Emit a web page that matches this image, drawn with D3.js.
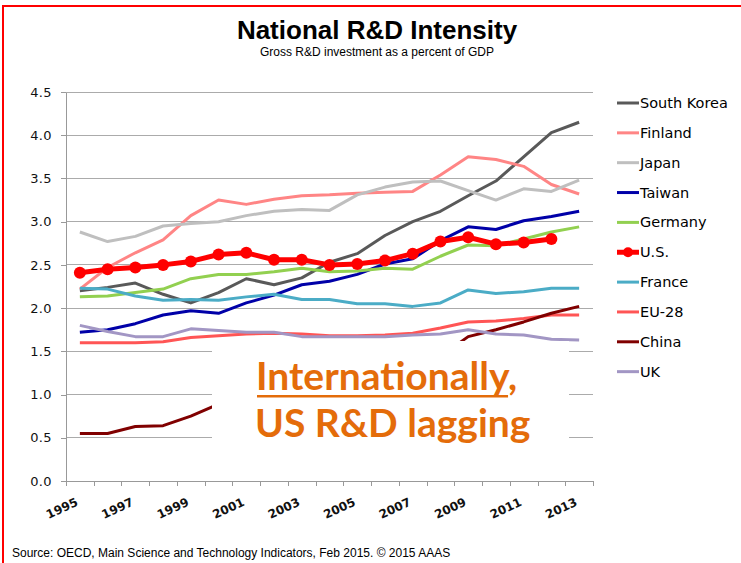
<!DOCTYPE html>
<html>
<head>
<meta charset="utf-8">
<script src="https://cdn.jsdelivr.net/npm/d3@7"></script>
<style>
html,body{margin:0;padding:0;background:#fff;}
svg{display:block;}
</style>
</head>
<body>
<svg id="chart" width="741" height="563"></svg>
<script>
// ---- data ----
const years = ["1995","1996","1997","1998","1999","2000","2001","2002","2003","2004","2005","2006","2007","2008","2009","2010","2011","2012","2013"];
const yearLabels = ["1995","1997","1999","2001","2003","2005","2007","2009","2011","2013"];
const yTicks = [0,0.5,1.0,1.5,2.0,2.5,3.0,3.5,4.0,4.5];
const seriesNames = ["South Korea","Finland","Japan","Taiwan","Germany","U.S.","France","EU-28","China","UK"];
const seriesColors = ["#595959","#FF8585","#BFBFBF","#0000A8","#92D050","#FF0000","#4BACC6","#FF5555","#800000","#A296C4"];
const southKorea = [2.20,2.24,2.29,2.16,2.06,2.18,2.34,2.27,2.35,2.53,2.63,2.84,3.00,3.12,3.30,3.47,3.75,4.03,4.15];
const finland    = [2.22,2.47,2.64,2.79,3.07,3.25,3.20,3.26,3.30,3.31,3.33,3.34,3.35,3.54,3.75,3.72,3.64,3.43,3.32];
const japan      = [2.88,2.77,2.83,2.95,2.98,3.00,3.07,3.12,3.14,3.13,3.31,3.40,3.46,3.47,3.36,3.25,3.38,3.35,3.48];
const taiwan     = [1.72,1.75,1.82,1.92,1.97,1.94,2.06,2.15,2.27,2.31,2.39,2.51,2.57,2.78,2.94,2.91,3.01,3.06,3.12];
const germany    = [2.13,2.14,2.18,2.22,2.34,2.39,2.39,2.42,2.46,2.42,2.43,2.46,2.45,2.60,2.73,2.72,2.80,2.88,2.94];
const us         = [2.41,2.45,2.47,2.50,2.54,2.62,2.64,2.56,2.56,2.50,2.51,2.55,2.63,2.77,2.82,2.74,2.76,2.80,null];
const france     = [2.23,2.22,2.14,2.09,2.10,2.09,2.13,2.16,2.10,2.10,2.05,2.05,2.02,2.06,2.21,2.17,2.19,2.23,2.23];
const eu28       = [1.60,1.60,1.60,1.61,1.66,1.68,1.70,1.71,1.70,1.68,1.68,1.69,1.71,1.77,1.84,1.85,1.88,1.92,1.92];
const china      = [0.55,0.55,0.63,0.64,0.75,0.89,0.94,1.06,1.12,1.21,1.31,1.37,1.37,1.44,1.67,1.75,1.84,1.94,2.02];
const uk         = [1.80,1.73,1.67,1.67,1.76,1.74,1.72,1.72,1.67,1.67,1.67,1.67,1.69,1.70,1.75,1.70,1.69,1.64,1.63];
const seriesValues = [southKorea,finland,japan,taiwan,germany,us,france,eu28,china,uk];

const titleText = "National R&D Intensity";
const subtitleText = "Gross R&D investment as a percent of GDP";
const sourceText = "Source: OECD, Main Science and Technology Indicators, Feb 2015. \u00A9 2015 AAAS";
const calloutLine1 = "Internationally";
const calloutLine2 = "US R&D lagging";

// ---- layout ----
const svg = d3.select("#chart");
const L = 66, R = 593, T = 92, B = 481;

const x = d3.scaleBand().domain(years).range([L, R]).padding(0);
const xc = d => x(d) + x.bandwidth() / 2;
const xIdx = d3.scaleLinear().domain([0, years.length]).range([L, R]);
const y = d3.scaleLinear().domain([0, 4.5]).range([B, T]);

// red frame
svg.append("rect").attr("x", 3).attr("y", 6).attr("width", 800).attr("height", 700)
  .attr("fill", "none").attr("stroke", "#FF0000").attr("stroke-width", 2);

// title
svg.append("text").attr("x", 377).attr("y", 39).attr("text-anchor", "middle")
  .attr("font-family", "Liberation Sans, Arial, sans-serif").attr("font-weight", "bold")
  .attr("font-size", 26).attr("fill", "#000").text(titleText);
svg.append("text").attr("x", 377).attr("y", 56).attr("text-anchor", "middle")
  .attr("font-family", "Liberation Sans, Arial, sans-serif")
  .attr("font-size", 12).attr("fill", "#000").text(subtitleText);

// gridlines
svg.append("g").selectAll("line").data(yTicks.filter(t => t > 0)).join("line")
  .attr("x1", L).attr("x2", R).attr("y1", d => y(d)).attr("y2", d => y(d))
  .attr("stroke", "#ABABAB").attr("stroke-width", 1).attr("shape-rendering", "crispEdges");

// y axis
const yAxis = svg.append("g").attr("transform", `translate(${L},0)`)
  .call(d3.axisLeft(y).tickValues(yTicks).tickFormat(d3.format(".1f")).tickSize(5).tickSizeOuter(0).tickPadding(9));
yAxis.select(".domain").attr("stroke", "#999").attr("shape-rendering", "crispEdges");
yAxis.selectAll(".tick line").attr("stroke", "#999").attr("shape-rendering", "crispEdges");
yAxis.selectAll("text").attr("font-family", "DejaVu Sans, Verdana, sans-serif")
  .attr("font-size", 13).attr("fill", "#111").attr("letter-spacing", 0.4);

// x axis (ticks at category boundaries)
const xAxis = svg.append("g").attr("transform", `translate(0,${B})`)
  .call(d3.axisBottom(xIdx).tickValues(d3.range(years.length + 1)).tickFormat("").tickSize(5).tickSizeOuter(0));
xAxis.select(".domain").attr("stroke", "#999").attr("shape-rendering", "crispEdges");
xAxis.selectAll(".tick line").attr("stroke", "#999").attr("shape-rendering", "crispEdges");

svg.append("g").selectAll("text").data(yearLabels).join("text")
  .attr("transform", d => `translate(${xc(d) - 1},${B + 24}) rotate(-25)`)
  .attr("text-anchor", "end")
  .attr("font-family", "DejaVu Sans, Verdana, sans-serif").attr("font-size", 12)
  .attr("font-weight", "bold").attr("fill", "#111").text(d => d);

// series
const line = d3.line().defined(d => d.v != null).x(d => xc(d.year)).y(d => y(d.v));
seriesNames.forEach((name, i) => {
  const pts = years.map((yr, j) => ({year: yr, v: seriesValues[i][j]}));
  const isUS = name === "U.S.";
  svg.append("path").datum(pts).attr("d", line).attr("fill", "none")
    .attr("stroke", seriesColors[i]).attr("stroke-width", isUS ? 5 : 3)
    .attr("stroke-linejoin", "round").attr("stroke-linecap", "butt");
  if (isUS) {
    svg.append("g").selectAll("circle").data(pts.filter(d => d.v != null)).join("circle")
      .attr("cx", d => xc(d.year)).attr("cy", d => y(d.v)).attr("r", 6)
      .attr("fill", seriesColors[i]);
  }
});

// white callout box covering part of plot
svg.append("rect").attr("x", 212).attr("y", 341).attr("width", 357).attr("height", 128).attr("fill", "#fff");

const orange = "#E46C0A";
const t1 = svg.append("text").attr("x", 256).attr("y", 390)
  .attr("font-family", "Lato, Carlito, Calibri, sans-serif").attr("font-weight", "bold")
  .attr("font-size", 39).attr("fill", orange);
t1.append("tspan").text(calloutLine1);
t1.append("tspan").text(",");
const ulw = t1.node().getSubStringLength(0, calloutLine1.length);
svg.append("rect").attr("x", 257).attr("y", 395).attr("width", ulw - 1).attr("height", 2.5).attr("fill", orange);
svg.append("text").attr("x", 255).attr("y", 437)
  .attr("font-family", "Lato, Carlito, Calibri, sans-serif").attr("font-weight", "bold")
  .attr("font-size", 39).attr("fill", orange).text(calloutLine2);

// legend
const lg = svg.append("g");
seriesNames.forEach((name, i) => {
  const ly = 103 + i * 29.85;
  const isUS = name === "U.S.";
  lg.append("line").attr("x1", 617).attr("x2", 639).attr("y1", ly).attr("y2", ly)
    .attr("stroke", seriesColors[i]).attr("stroke-width", isUS ? 5 : 3);
  if (isUS) lg.append("circle").attr("cx", 628).attr("cy", ly).attr("r", 5).attr("fill", seriesColors[i]);
  lg.append("text").attr("x", 640).attr("y", ly + 5)
    .attr("font-family", "DejaVu Sans, Verdana, sans-serif").attr("font-size", 14.5)
    .attr("fill", "#000").text(name);
});

// source
svg.append("text").attr("x", 12).attr("y", 557)
  .attr("font-family", "Liberation Sans, Arial, sans-serif").attr("font-size", 12)
  .attr("fill", "#000").text(sourceText);
</script>
</body>
</html>
